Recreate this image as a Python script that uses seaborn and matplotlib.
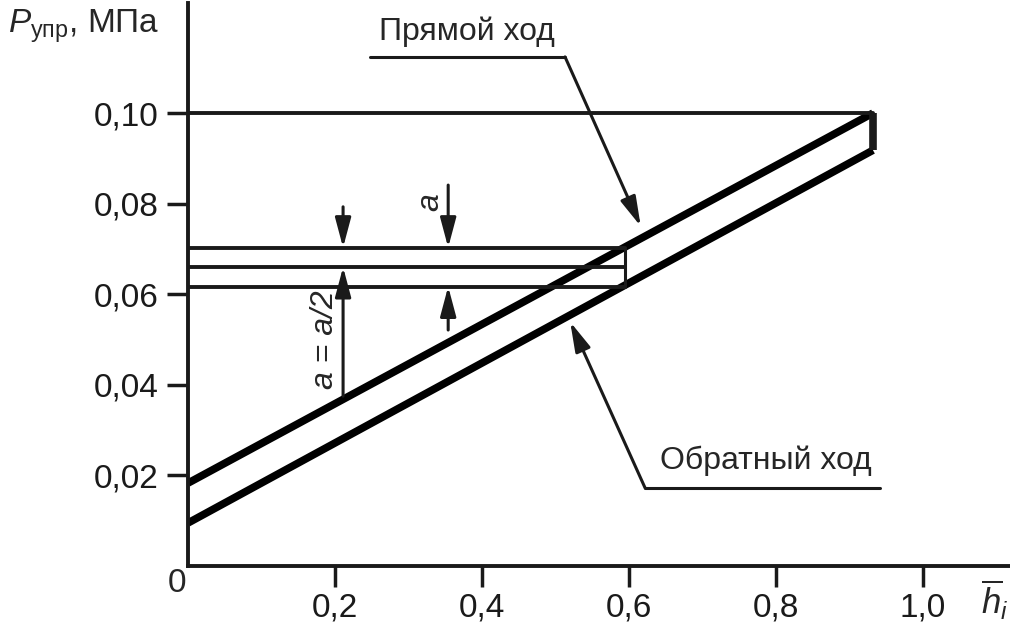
import numpy as np
import pandas as pd
import matplotlib
matplotlib.use("Agg")
import matplotlib.pyplot as plt
import seaborn as sns

# h (relative stroke) vs P_upr, MPa
h_line = [0.0, 0.932]
p_forward = [0.0183, 0.1000]   # прямой ход
p_reverse = [0.0095, 0.0918]   # обратный ход

p_top = 0.100                  # horizontal level at the top of the loop
h_mark = 0.594                 # where the three helper levels end
levels = [0.0703, 0.0660, 0.0617]

x_ticks = [0.2, 0.4, 0.6, 0.8, 1.0]
x_labels = ["0,2", "0,4", "0,6", "0,8", "1,0"]
y_ticks = [0.02, 0.04, 0.06, 0.08, 0.10]
y_labels = ["0,02", "0,04", "0,06", "0,08", "0,10"]

sns.set_theme(style="white")
plt.rcParams["font.family"] = ["Liberation Sans", "DejaVu Sans"]
plt.rcParams["mathtext.fontset"] = "custom"
plt.rcParams["mathtext.rm"] = "Liberation Sans"
plt.rcParams["mathtext.it"] = "Liberation Sans:italic"

fig = plt.figure(figsize=(10.1, 6.25), dpi=100)
ax = fig.add_axes([188 / 1010, 59 / 625, 822 / 1010, 563 / 625])

df = pd.DataFrame({
    "h": h_line + h_line,
    "p": p_forward + p_reverse,
    "ход": ["прямой"] * 2 + ["обратный"] * 2,
})
sns.lineplot(data=df, x="h", y="p", hue="ход", palette=["black", "black"],
             linewidth=5.5, legend=False, ax=ax, solid_capstyle="butt")

# closing vertical at the end of the stroke
ax.plot([h_line[1], h_line[1]], [p_reverse[1], p_forward[1]], color="k", lw=5.5,
        solid_capstyle="butt")
# top level line
ax.plot([0, h_line[1]], [p_top, p_top], color="k", lw=2.8)
# three helper levels and their end mark
for lv in levels:
    ax.plot([0, h_mark], [lv, lv], color="k", lw=2.8)
ax.plot([h_mark, h_mark], [levels[0], levels[2]], color="k", lw=2.2)

arrow = dict(arrowstyle="-|>,head_length=0.75,head_width=0.2", color="k", lw=2.2,
             shrinkA=0, shrinkB=0, mutation_scale=24)

# dimension arrows
ax.annotate("", xy=(0.211, levels[0]), xytext=(0.211, 0.0793), arrowprops=arrow)
ax.annotate("", xy=(0.211, levels[1]), xytext=(0.211, 0.0375), arrowprops=arrow)
ax.annotate("", xy=(0.354, levels[0]), xytext=(0.354, 0.0841), arrowprops=arrow)
ax.annotate("", xy=(0.354, levels[2]), xytext=(0.354, 0.0521), arrowprops=arrow)
ax.text(0.186, 0.0499, "a = a/2", rotation=90, fontsize=23, fontstyle="italic",
        ha="center", va="center")
ax.text(0.330, 0.0804, "a", rotation=90, fontsize=23, fontstyle="italic",
        ha="center", va="center")

# callouts
ax.text(0.380, 0.1180, "Прямой ход", fontsize=23, ha="center", va="center")
ax.plot([0.248, 0.513], [0.1124, 0.1124], color="k", lw=2.2)
ax.annotate("", xy=(0.616, 0.0750), xytext=(0.513, 0.1124), arrowprops=arrow)

ax.text(0.786, 0.0232, "Обратный ход", fontsize=23, ha="center", va="center")
ax.plot([0.622, 0.941], [0.0172, 0.0172], color="k", lw=2.2)
ax.annotate("", xy=(0.520, 0.0539), xytext=(0.622, 0.0172), arrowprops=arrow)

ax.set_xlim(0, 1.1184)
ax.set_ylim(0, 0.1243)
ax.set_xticks(x_ticks, x_labels)
ax.set_yticks(y_ticks, y_labels)
ax.tick_params(axis="both", direction="out", length=15, width=2.5, color="k",
               labelsize=24, labelcolor="k", bottom=True, left=True)
ax.tick_params(axis="x", pad=4)
ax.tick_params(axis="y", pad=6)
ax.set_xlabel("")
ax.set_ylabel("")
sns.despine(ax=ax)
for s in ("left", "bottom"):
    ax.spines[s].set_linewidth(2.8)
    ax.spines[s].set_color("k")

ax.text(-0.015, -0.0038, "0", fontsize=24, ha="center", va="center", clip_on=False)
ax.text(1.098, -0.0075, r"$\overline{h}_{i}$", fontsize=25, ha="center", va="center",
        clip_on=False)
fig.text(8 / 1010, 1 - 33 / 625, r"$P_{\mathrm{упр}}$, МПа", fontsize=24,
         ha="left", va="baseline")

fig.savefig("out.png", dpi=100, facecolor="white")
